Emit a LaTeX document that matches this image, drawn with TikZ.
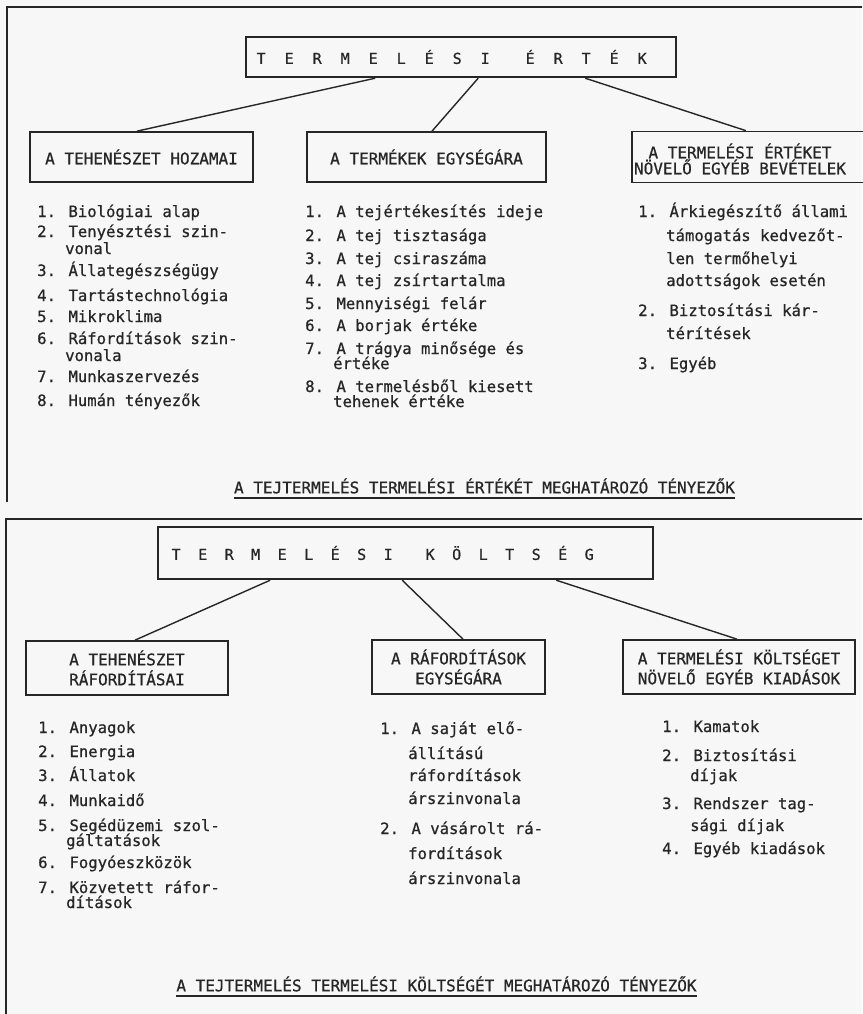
\documentclass[tikz,border=0pt]{standalone}
\usepackage{fontspec}
\newfontfamily\tw[FakeBold=0.7]{DejaVu Sans Mono}
\colorlet{ink}{black!85}
\colorlet{paper}{black!3}

\tikzset{
  frame/.style={draw=ink, line width=1.3pt},
  link/.style={draw=ink, line width=1.4pt},
  headbox/.style={draw=ink, line width=2.4pt, text=ink, align=left, minimum height=40pt,
    font={\tw\fontsize{15pt}{17pt}\selectfont}},
  subbox/.style={draw=ink, line width=1.7pt, text=ink, align=center, minimum height=50pt,
    font={\tw\fontsize{16pt}{16pt}\selectfont}},
  boxtext/.style={text=ink, align=center, inner sep=0pt, font={\tw\fontsize{16pt}{16pt}\selectfont}},
  item/.style={anchor=base west, inner sep=0pt, text=ink, font={\tw\fontsize{15.6pt}{17pt}\selectfont}},
  caption/.style={text=ink, inner xsep=0pt, inner ysep=4pt, font={\tw\fontsize{16pt}{18pt}\selectfont}},
  capline/.style={draw=ink, line width=1.6pt}
}

\begin{document}
\begin{tikzpicture}[x=1pt, y=-1pt]

  \fill[paper] (0,0) rectangle (862,1014);
  \useasboundingbox (0,0) rectangle (862,1014);

  % frames of the two panels
  \draw[frame] (862,7) -- (7,7) -- (7,502);
  \draw[frame] (862,519) -- (6,519) -- (6,1014);

  % ---------------- termelesi ertek ----------------
  \node[headbox, anchor=west, inner xsep=1pt, text width=428pt] (ert) at (245,57)
    {\foreach \c in {T,E,R,M,E,L,É,S,I}{\makebox[28pt]{\c}}\hspace{17pt}%
     \foreach \c in {É,R,T,É,K}{\makebox[28pt]{\c}}};

  \node[subbox, minimum width=223pt] (hoz) at (141.5,157) {A TEHENÉSZET HOZAMAI};
  \node[subbox, minimum width=239pt] (egy) at (426.5,157) {A TERMÉKEK EGYSÉGÁRA};
  \node[subbox, minimum width=254pt, minimum height=51pt, anchor=west] (bev) at (631,157) {};
  \node[boxtext] (bevt) at (740,159) {A TERMELÉSI ÉRTÉKET\\NÖVELŐ EGYÉB BEVÉTELEK};

  \draw[link] ([xshift=-86pt]ert.south) -- ([xshift=-4.5pt]hoz.north);
  \draw[link] ([xshift=17pt]ert.south) -- ([xshift=5.5pt]egy.north);
  \draw[link] ([xshift=124pt]ert.south) -- ([xshift=-13pt]bev.north);

  \begin{scope}[every node/.style={item}]
    \node (hoz1)  at (37,217) {1. Biológiai alap};
    \node (hoz2)  at (37,237) {2. Tenyésztési szin-};
    \node (hoz2b) at (65,254) {vonal};
    \node (hoz3)  at (37,276) {3. Állategészségügy};
    \node (hoz4)  at (37,301) {4. Tartástechnológia};
    \node (hoz5)  at (37,322) {5. Mikroklima};
    \node (hoz6)  at (37,344) {6. Ráfordítások szin-};
    \node (hoz6b) at (65,361) {vonala};
    \node (hoz7)  at (37,382) {7. Munkaszervezés};
    \node (hoz8)  at (37,406) {8. Humán tényezők};

    \node (egy1)  at (305,217) {1. A tejértékesítés ideje};
    \node (egy2)  at (305,241) {2. A tej tisztasága};
    \node (egy3)  at (305,264) {3. A tej csiraszáma};
    \node (egy4)  at (305,286) {4. A tej zsírtartalma};
    \node (egy5)  at (305,309) {5. Mennyiségi felár};
    \node (egy6)  at (305,331) {6. A borjak értéke};
    \node (egy7)  at (305,354) {7. A trágya minősége és};
    \node (egy7b) at (333,369) {értéke};
    \node (egy8)  at (305,392) {8. A termelésből kiesett};
    \node (egy8b) at (333,407) {tehenek értéke};

    \node (bev1)  at (638,217) {1. Árkiegészítő állami};
    \node (bev1b) at (666,241) {támogatás kedvezőt-};
    \node (bev1c) at (666,264) {len termőhelyi};
    \node (bev1d) at (666,286) {adottságok esetén};
    \node (bev2)  at (638,316) {2. Biztosítási kár-};
    \node (bev2b) at (666,339) {térítések};
    \node (bev3)  at (638,369) {3. Egyéb};
  \end{scope}

  \node[caption] (cap1) at (484.5,486) {A TEJTERMELÉS TERMELÉSI ÉRTÉKÉT MEGHATÁROZÓ TÉNYEZŐK};
  \draw[capline] (cap1.south west) -- (cap1.south east);

  % ---------------- termelesi koltseg ----------------
  \node[headbox, anchor=west, inner xsep=4.75pt, text width=485.5pt, minimum height=52pt] (kolt) at (157,553)
    {\foreach \c in {T,E,R,M,E,L,É,S,I}{\makebox[26.5pt]{\c}}\hspace{15.5pt}%
     \foreach \c in {K,Ö,L,T,S,É,G}{\makebox[26.5pt]{\c}}};

  \begin{scope}[every node/.style={subbox, minimum height=54pt, font={\tw\fontsize{16pt}{20pt}\selectfont}}]
    \node[minimum width=202pt] (raf) at (127,668)   {A TEHENÉSZET\\RÁFORDÍTÁSAI};
    \node[minimum width=173pt] (ear) at (458.5,667) {A RÁFORDÍTÁSOK\\EGYSÉGÁRA};
    \node[minimum width=232pt] (kia) at (739,667)   {A TERMELÉSI KÖLTSÉGET\\NÖVELŐ EGYÉB KIADÁSOK};
  \end{scope}

  \draw[link] ([xshift=-135.5pt]kolt.south) -- ([xshift=8pt]raf.north);
  \draw[link] ([xshift=-3.5pt]kolt.south) -- ([xshift=4.5pt]ear.north);
  \draw[link] ([xshift=150.5pt]kolt.south) -- ([xshift=-2pt]kia.north);

  \begin{scope}[every node/.style={item}]
    \node (raf1)  at (38,733) {1. Anyagok};
    \node (raf2)  at (38,757) {2. Energia};
    \node (raf3)  at (38,781) {3. Állatok};
    \node (raf4)  at (38,806) {4. Munkaidő};
    \node (raf5)  at (38,831) {5. Segédüzemi szol-};
    \node (raf5b) at (66,846) {gáltatások};
    \node (raf6)  at (38,868) {6. Fogyóeszközök};
    \node (raf7)  at (38,893) {7. Közvetett ráfor-};
    \node (raf7b) at (66,908) {dítások};

    \node (ear1)  at (380,734) {1. A saját elő-};
    \node (ear1b) at (408,759) {állítású};
    \node (ear1c) at (408,781) {ráfordítások};
    \node (ear1d) at (408,804) {árszinvonala};
    \node (ear2)  at (380,834) {2. A vásárolt rá-};
    \node (ear2b) at (408,859) {fordítások};
    \node (ear2c) at (408,884) {árszinvonala};

    \node (kia1)  at (662,732) {1. Kamatok};
    \node (kia2)  at (662,761) {2. Biztosítási};
    \node (kia2b) at (690,781) {díjak};
    \node (kia3)  at (662,809) {3. Rendszer tag-};
    \node (kia3b) at (690,831) {sági díjak};
    \node (kia4)  at (662,854) {4. Egyéb kiadások};
  \end{scope}

  \node[caption] (cap2) at (436.5,984) {A TEJTERMELÉS TERMELÉSI KÖLTSÉGÉT MEGHATÁROZÓ TÉNYEZŐK};
  \draw[capline] (cap2.south west) -- (cap2.south east);

\end{tikzpicture}
\end{document}
